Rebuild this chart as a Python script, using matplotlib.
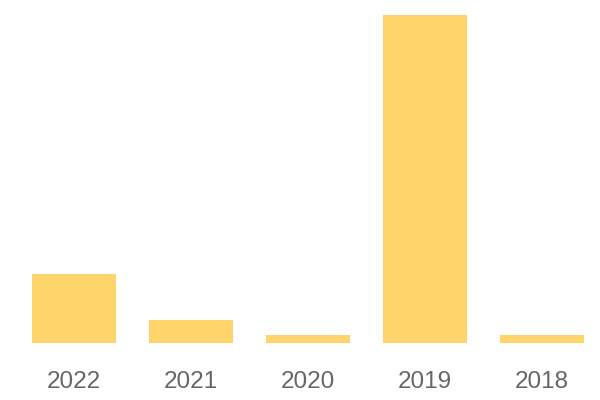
import matplotlib.pyplot as plt

years = ["2022", "2021", "2020", "2019", "2018"]
values = [20.9, 6.9, 2.35, 100.0, 2.35]

fig = plt.figure(figsize=(6, 4), dpi=100)
ax = fig.add_axes([15.5 / 600, 57 / 400, 585 / 600, 328 / 400])

ax.bar(range(len(years)), values, width=0.72, color="#FED46B")
ax.set_xlim(-0.5, len(years) - 0.5)
ax.set_ylim(0, max(values))

ax.set_xticks(range(len(years)))
ax.set_xticklabels(years, fontsize=17.5, color="#666666", family="Liberation Sans")
ax.tick_params(axis="x", length=0, pad=20)
ax.set_yticks([])
for s in ax.spines.values():
    s.set_visible(False)

fig.savefig("out.png", dpi=100)
